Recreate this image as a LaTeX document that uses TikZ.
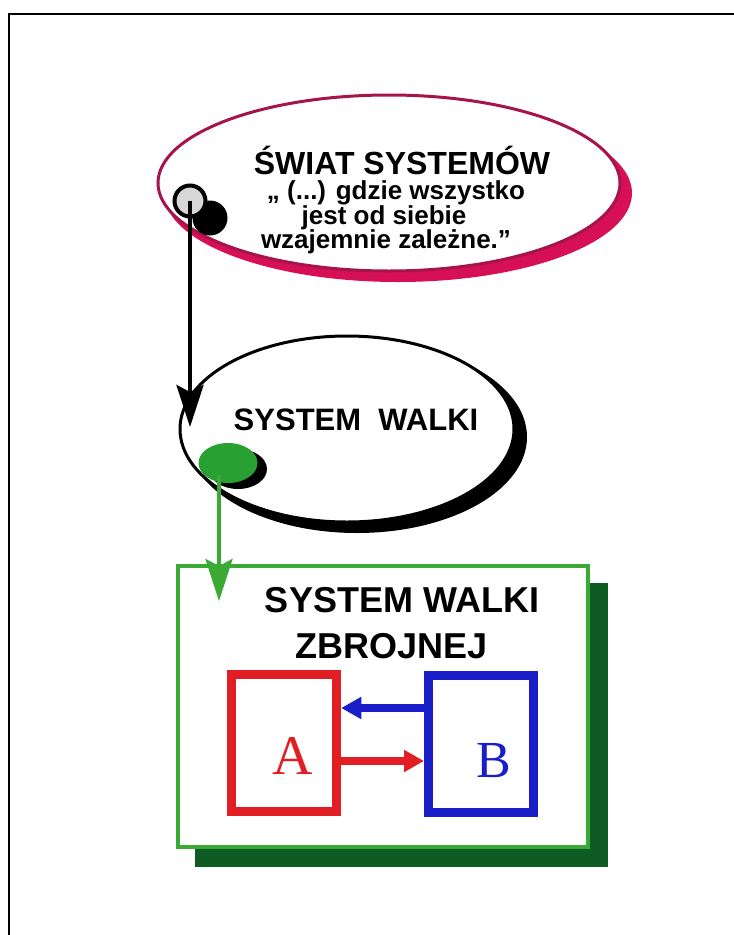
\documentclass[tikz,border=0pt]{standalone}
\usepackage{fontspec}
\setmainfont{Liberation Sans}
\newfontfamily\serifAB{Liberation Serif}
\usetikzlibrary{arrows.meta,shapes.geometric}
\definecolor{magOut}{RGB}{165,20,75}
\definecolor{magSh}{RGB}{215,15,85}
\definecolor{grn}{RGB}{58,170,53}
\definecolor{dgrn}{RGB}{14,92,36}
\definecolor{redA}{RGB}{225,30,35}
\definecolor{bluB}{RGB}{25,30,200}
\definecolor{dotgrey}{RGB}{215,215,215}
\definecolor{dotgreen}{RGB}{40,160,50}
\tikzset{
  bigtxt/.style={anchor=base, inner sep=0, font=\bfseries\fontsize{#1}{#1}\selectfont},
  boxAB/.style={draw=#1, line width=9pt, fill=white, minimum width=105pt, minimum height=137pt, inner sep=0},
  thickarrow/.style={draw=#1, line width=8pt, -{Triangle[length=20pt,width=21pt]}},
}
\begin{document}
\begin{tikzpicture}[x=1pt,y=-1pt]
\useasboundingbox (0,0) rectangle (734,935);
% frame
\draw[line width=2pt] (9,950) -- (9,14) -- (750,14);

% magenta ellipse
\fill[magSh] (398,193) ellipse [x radius=234pt, y radius=89pt];
\fill[white] (389,183) ellipse [x radius=231pt, y radius=88pt];
\draw[magOut, line width=3pt] (389,183) ellipse [x radius=231pt, y radius=88pt];
\node[bigtxt=32] (t1) at (402,174) {ŚWIAT SYSTEMÓW};
\node[bigtxt=26] (t2) at (396,199) {„ (...) gdzie wszystko};
\node[bigtxt=26] (t3) at (384,224) {jest od siebie};
\node[bigtxt=26] (t4) at (386,248) {wzajemnie zależne.”};

% black ellipse
\fill[black] (357,437) ellipse [x radius=170pt, y radius=96pt];
\fill[white] (347,429) ellipse [x radius=167pt, y radius=93pt];
\draw[black, line width=3pt] (347,429) ellipse [x radius=167pt, y radius=93pt];
\node[bigtxt=31] (t5) at (356,430) {SYSTEM\ \ WALKI};

% dots
\node[circle, fill=black, minimum size=35pt, inner sep=0] (bdot) at (210,218) {};
\node[circle, draw=black, line width=4pt, fill=dotgrey, minimum size=31pt, inner sep=0] (gdot) at (190,201) {};
\coordinate (btip) at (190,427);
\draw[line width=4pt, -{Stealth[length=42pt,width=27pt,inset=7pt]}] (gdot.center) -- (btip);

% green box with shadow
\fill[dgrn] (195,583) rectangle (608,867);
\node[draw=grn, line width=3.5pt, fill=white, minimum width=410pt, minimum height=281pt, inner sep=0] (gbox) at (383,706.5) {};
\node[bigtxt=36] (t6) at (402,612) {SYSTEM WALKI};
\node[bigtxt=36] (t7) at (392,658) {ZBROJNEJ};

% green dot and arrow
\node[ellipse, fill=black, minimum width=58pt, minimum height=40pt, inner sep=0] (gsh) at (238,469) {};
\node[ellipse, fill=dotgreen, minimum width=59pt, minimum height=40pt, inner sep=0] (gdot2) at (228,463) {};
\coordinate (gstart) at (219,475);
\coordinate (gtip) at (219,601);
\draw[grn, line width=4pt, -{Stealth[length=42pt,width=27pt,inset=7pt]}] (gstart) -- (gtip);

% A and B
\node[boxAB=redA] (boxA) at (284.25,743) {};
\node[boxAB=bluB] (boxB) at (481,744) {};
\node[anchor=base, inner sep=0, text=redA, font=\serifAB\fontsize{56}{56}\selectfont] (labA) at (293,774) {A};
\node[anchor=base, inner sep=0, text=bluB, font=\serifAB\fontsize{52}{52}\selectfont] (labB) at (494,777) {B};
\draw[thickarrow=bluB] ([yshift=36pt]boxB.west) -- ([yshift=35pt]boxA.east);
\draw[thickarrow=redA] ([yshift=-18pt]boxA.east) -- ([yshift=-17pt]boxB.west);
\end{tikzpicture}
\end{document}
